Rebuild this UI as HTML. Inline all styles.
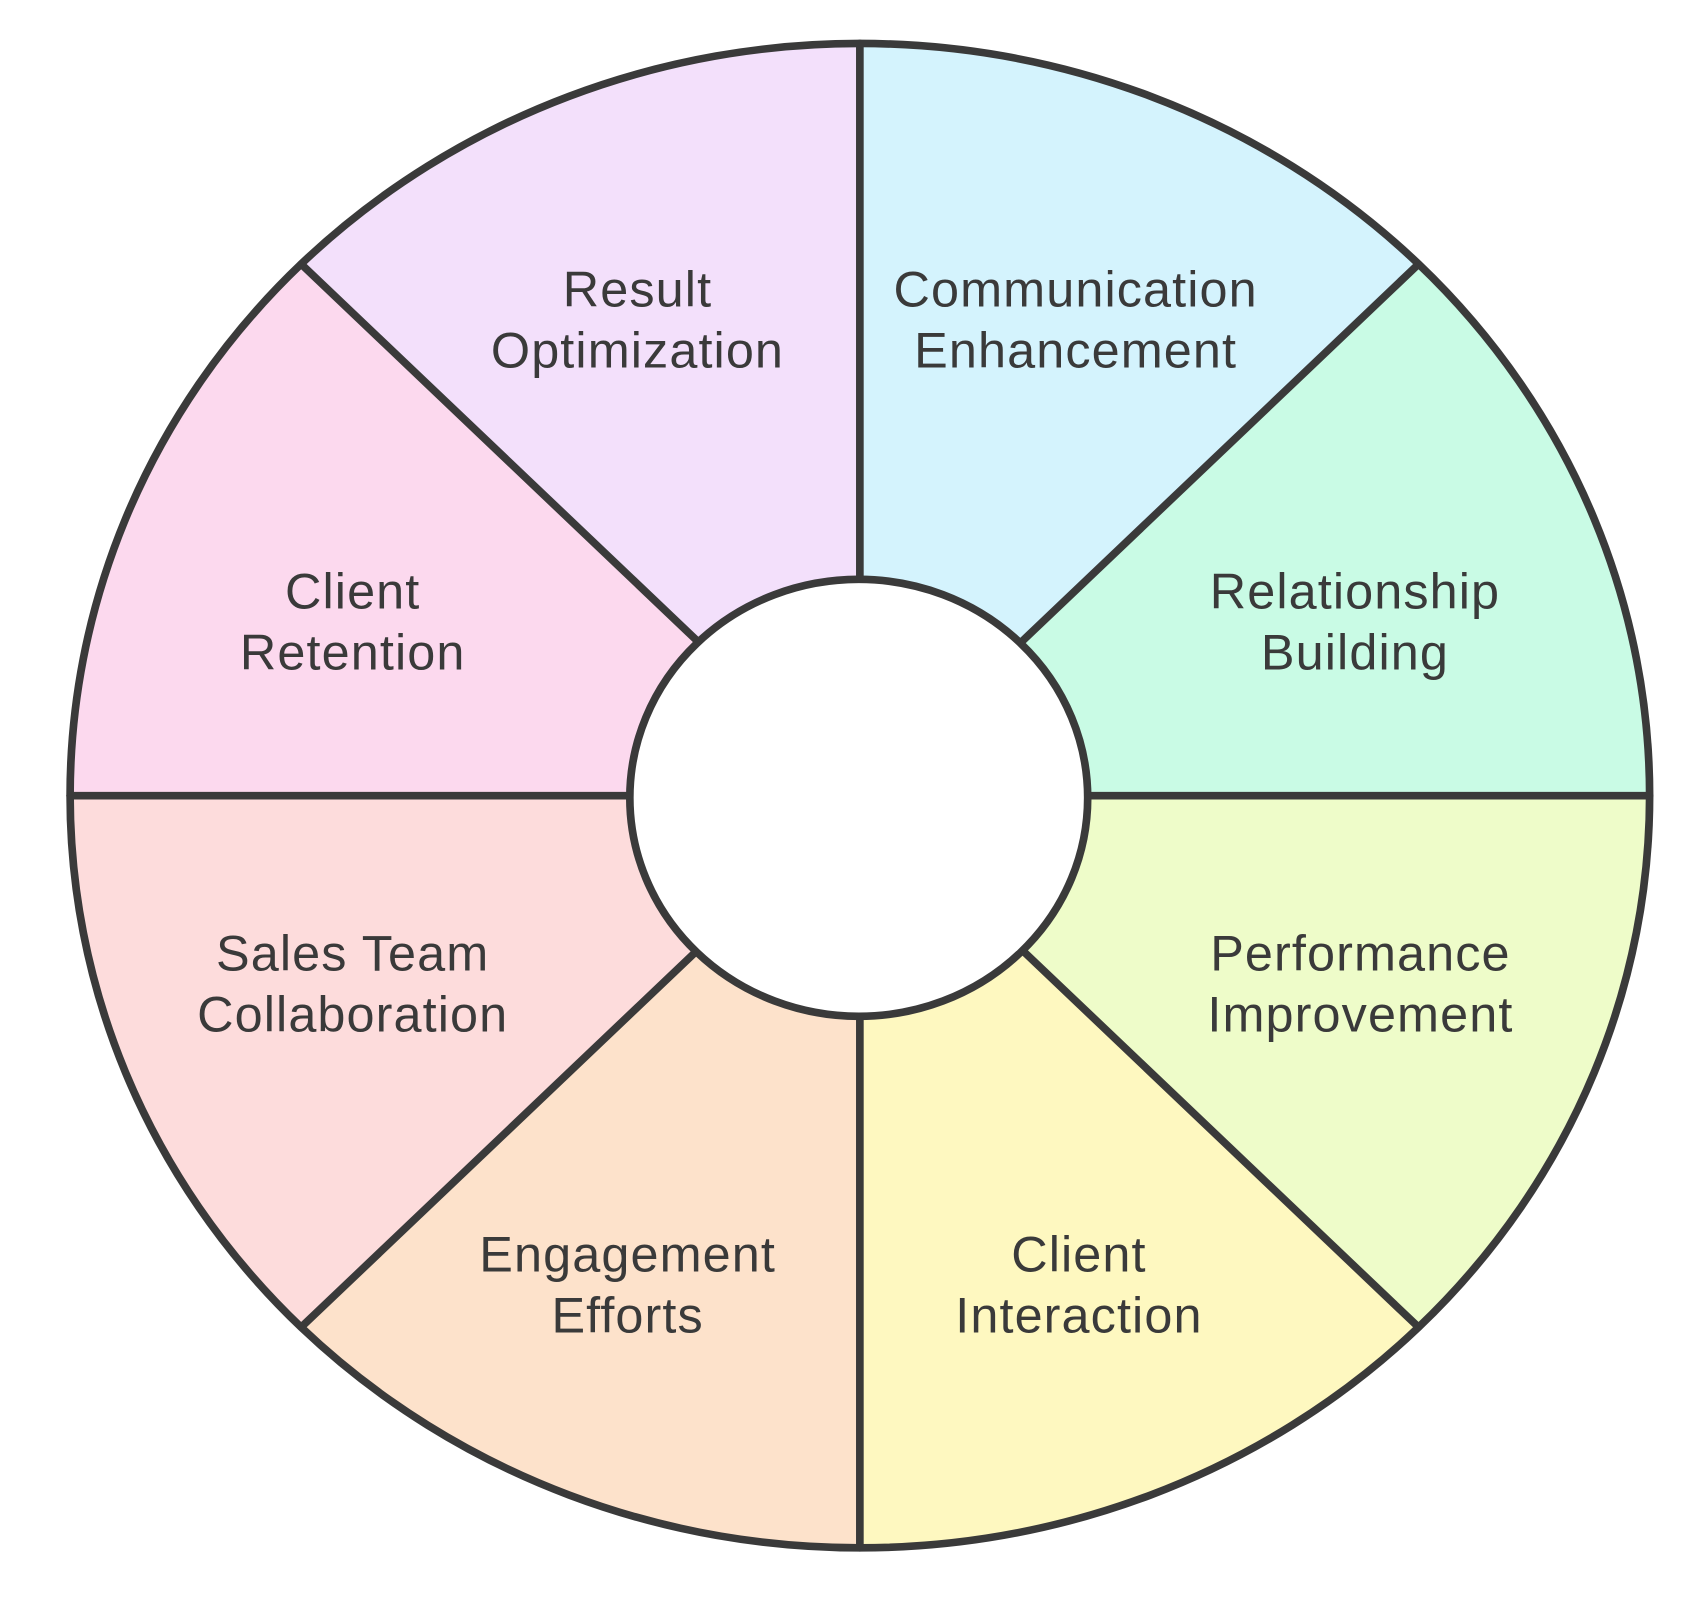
<!DOCTYPE html>
<html><head><meta charset="utf-8"><style>
html,body{margin:0;padding:0;background:#fff;}
svg{display:block;}
text{font-family:"Liberation Sans",sans-serif;font-size:46px;fill:#3a3a3a;text-anchor:middle;letter-spacing:1px;}
</style></head><body>
<svg width="1700" height="1600" viewBox="0 0 1552 1472" preserveAspectRatio="none" xmlns="http://www.w3.org/2000/svg">
<g stroke="none">
<path d="M785,732 L785,40 A721,692 0 0 0 275,243 Z" fill="#f3e0fb"/>
<path d="M785,732 L1295,243 A721,692 0 0 0 785,40 Z" fill="#d4f3fd"/>
<path d="M785,732 L1506,732 A721,692 0 0 0 1295,243 Z" fill="#c9fbe5"/>
<path d="M785,732 L1295,1221 A721,692 0 0 0 1506,732 Z" fill="#eefcc9"/>
<path d="M785,732 L785,1424 A721,692 0 0 0 1295,1221 Z" fill="#fef8c0"/>
<path d="M785,732 L275,1221 A721,692 0 0 0 785,1424 Z" fill="#fde2cb"/>
<path d="M785,732 L64,732 A721,692 0 0 0 275,1221 Z" fill="#fddcdc"/>
<path d="M785,732 L275,243 A721,692 0 0 0 64,732 Z" fill="#fcd9ee"/>
</g>
<g stroke="#3a3a3a" stroke-width="7" fill="none" stroke-linecap="round">
<line x1="785" y1="40" x2="785" y2="1424"/>
<line x1="64" y1="732" x2="1506" y2="732"/>
<line x1="275" y1="243" x2="1295" y2="1221"/>
<line x1="1295" y1="243" x2="275" y2="1221"/>
<ellipse cx="785" cy="732" rx="721" ry="692"/>
</g>
<ellipse cx="784" cy="734" rx="209" ry="201" fill="#fff" stroke="#3a3a3a" stroke-width="7"/>
<text x="582" y="282">Result</text><text x="582" y="338">Optimization</text>
<text x="982" y="282">Communication</text><text x="982" y="338">Enhancement</text>
<text x="1237" y="560">Relationship</text><text x="1237" y="616">Building</text>
<text x="1242" y="893">Performance</text><text x="1242" y="949">Improvement</text>
<text x="985" y="1170">Client</text><text x="985" y="1226">Interaction</text>
<text x="573" y="1170">Engagement</text><text x="573" y="1226">Efforts</text>
<text x="322" y="893">Sales Team</text><text x="322" y="949">Collaboration</text>
<text x="322" y="560">Client</text><text x="322" y="616">Retention</text>
</svg>
</body></html>
